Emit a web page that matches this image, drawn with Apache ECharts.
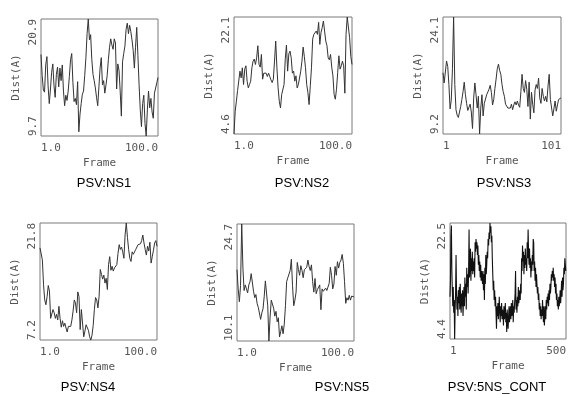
<!DOCTYPE html>
<html><head><meta charset="utf-8">
<script src="https://cdn.jsdelivr.net/npm/echarts@6/dist/echarts.min.js"></script>
<style>html,body{margin:0;padding:0;background:#fff}#c{width:569px;height:395px}</style>
</head><body><div id="c"></div>
<script>
const panelTitles = ['PSV:NS1', 'PSV:NS2', 'PSV:NS3', 'PSV:NS4', 'PSV:NS5', 'PSV:5NS_CONT'];

const dist1 = [17.5,15.5,14.1,13.9,16.5,17.3,14.5,12.8,14.2,15.8,
16.6,14.5,13.4,15.6,16.3,14.4,16.2,15.0,16.5,14.0,
12.6,13.6,13.1,14.0,15.4,17.0,17.6,14.8,13.0,13.3,
12.7,14.9,10.1,11.8,12.8,13.7,14.0,15.5,17.2,19.5,
20.9,18.9,19.4,17.0,15.6,15.0,14.3,13.4,12.6,14.4,
16.2,17.2,14.6,15.0,13.8,14.6,15.5,17.0,18.2,19.0,
18.4,18.0,19.0,18.6,14.2,16.6,16.0,14.0,11.6,16.8,
17.6,18.3,19.9,20.5,19.5,20.3,19.7,18.9,17.9,16.2,
18.2,20.1,17.4,14.6,12.2,10.6,12.8,13.6,10.9,9.7,
12.2,14.0,12.4,13.3,12.0,11.4,13.8,13.7,14.8,15.3];

const dist2 = [4.6,8.0,9.5,11.1,11.2,14.0,13.0,14.5,12.0,14.3,
14.8,12.5,11.5,12.0,12.5,14.5,15.5,15.8,15.0,16.0,
17.8,15.0,14.6,16.5,12.8,13.7,13.5,13.7,13.2,13.7,
13.2,12.7,12.3,12.8,15.5,18.5,14.5,11.5,9.5,8.5,
10.5,10.7,12.0,15.8,17.9,14.0,16.6,17.0,16.0,13.7,
14.0,12.5,13.3,11.5,12.0,12.2,14.0,15.5,17.6,16.2,
14.5,12.0,10.8,9.0,11.8,14.5,18.8,19.5,19.3,20.0,
19.5,21.3,18.0,19.8,20.5,21.5,20.0,18.5,17.8,16.0,
15.7,16.5,14.6,13.3,10.5,9.8,11.3,13.8,16.3,14.3,
14.8,15.5,14.8,10.7,19.5,22.1,22.0,19.0,16.2,15.0];

const dist3 = [17.0,15.7,15.8,18.5,17.8,15.5,12.4,13.5,17.5,24.1,
15.5,12.3,11.6,11.3,12.0,12.7,13.6,14.6,15.8,14.2,
13.1,12.2,12.0,13.0,12.0,9.9,13.8,15.7,14.2,12.5,
14.0,9.2,12.5,14.2,11.5,13.1,12.9,14.2,14.4,14.9,
15.4,14.5,12.9,13.6,15.0,16.2,17.5,18.1,17.3,16.8,
15.5,14.6,14.0,13.0,13.1,12.5,12.3,12.5,13.0,12.3,
12.9,13.3,12.9,13.4,12.9,12.6,14.6,16.8,15.0,14.5,
16.0,14.9,12.7,15.8,11.1,14.5,13.0,11.9,14.8,15.5,
15.0,16.3,13.8,13.1,15.0,14.0,13.4,14.0,13.3,15.3,
16.8,13.6,13.5,11.5,12.4,13.4,12.1,12.9,13.6,13.8,
13.8];

const dist4 = [18.7,18.5,17.2,14.1,12.2,11.6,12.6,14.0,13.3,9.9,
9.7,11.0,10.6,9.9,10.4,9.7,11.4,9.9,8.8,9.6,
8.9,9.3,8.7,8.2,8.9,9.1,8.9,9.7,10.8,12.2,
11.8,10.6,13.2,12.6,8.5,11.0,10.8,7.6,8.3,9.1,
9.1,8.4,7.6,7.2,7.8,9.0,11.0,12.5,12.2,11.2,
12.6,16.0,15.4,14.8,15.3,14.3,14.9,13.5,16.6,17.6,
15.9,16.4,15.8,16.2,16.4,16.6,18.0,19.1,18.5,18.8,
18.2,17.4,20.3,21.8,20.0,18.5,17.4,17.0,18.2,17.9,
17.8,18.5,18.4,19.1,18.9,19.2,19.6,20.3,19.3,18.5,
17.8,18.9,18.3,19.4,16.8,17.6,18.4,19.3,19.6,18.9];

const dist5 = [19.0,16.6,15.0,17.0,24.7,19.2,16.4,17.1,16.6,16.1,
17.1,17.5,18.5,18.4,16.3,15.5,15.9,14.8,14.3,14.2,
12.8,13.6,14.1,15.6,17.6,17.5,14.5,10.1,13.1,15.2,
15.4,14.2,13.2,13.8,12.5,13.0,10.6,11.3,12.0,11.0,
12.2,14.5,17.5,18.0,18.1,18.9,20.3,17.0,14.5,15.2,
16.2,19.9,19.0,18.3,19.5,18.9,18.0,19.0,18.8,19.3,
20.2,19.4,18.9,19.6,17.5,16.2,17.9,16.0,16.5,16.3,
17.1,14.0,16.6,16.3,16.4,16.7,16.4,16.2,17.3,19.3,
18.3,16.6,17.2,19.4,18.3,20.0,19.2,19.9,20.2,20.9,
19.8,17.5,14.8,15.5,15.2,15.8,15.2,15.7,15.6,15.6];

// PSV:5NS_CONT, sampled every 2nd frame
const dist6 = [11.0,13.5,20.5,22.1,15.0,12.0,9.5,12.5,8.5,10.5,
4.4,9.0,11.5,17.5,12.0,9.0,11.0,8.0,12.0,10.0,
12.5,9.0,13.0,10.5,8.5,11.5,9.5,12.0,8.0,10.5,
12.5,9.5,14.0,11.0,13.0,9.0,15.5,12.5,14.5,11.5,
15.0,21.5,14.0,16.5,18.5,13.5,17.0,15.0,18.0,14.5,
16.5,15.0,17.0,14.0,19.5,18.0,20.0,18.5,19.5,17.5,
19.0,16.0,17.5,15.0,16.5,14.0,16.0,13.5,15.0,14.0,
13.0,15.0,12.0,14.5,10.5,15.5,13.0,17.5,14.5,16.0,
18.0,17.0,20.0,19.0,21.0,20.0,22.5,21.0,22.0,19.5,
20.5,17.0,14.5,12.0,13.5,10.5,12.0,9.5,11.0,8.5,
6.0,9.5,8.0,10.0,7.5,9.0,11.0,8.5,7.0,9.5,
8.0,10.0,7.5,9.0,8.5,6.5,9.5,7.5,8.5,10.0,
7.0,8.5,5.5,9.0,7.5,6.0,8.0,9.5,7.0,8.5,
9.5,7.5,10.0,8.0,9.0,10.5,7.0,9.5,8.5,10.0,
11.5,15.0,9.0,10.5,8.5,11.0,9.5,12.5,10.0,11.0,
12.0,10.5,13.0,11.5,17.0,15.0,19.0,16.5,18.0,14.5,
17.5,15.5,18.5,16.0,17.0,15.0,19.5,17.0,21.5,18.0,
16.0,18.5,15.5,17.0,14.0,16.5,15.0,17.5,16.0,20.0,
19.5,15.0,16.5,13.5,15.5,12.5,14.5,13.0,11.5,12.5,
10.5,11.5,9.0,10.0,8.0,9.5,7.5,9.0,8.0,10.5,
8.5,7.0,9.5,6.5,8.0,9.5,7.5,10.5,9.0,11.0,
10.0,11.5,9.5,12.0,10.5,13.0,11.5,12.5,14.5,13.5,
15.0,14.0,15.5,13.5,14.5,12.5,14.0,11.5,13.0,10.5,
11.5,9.5,10.5,9.0,11.0,9.5,10.5,12.0,10.0,11.5,
13.5,11.0,14.0,12.0,13.0,15.5,14.5,17.0,16.0,15.0];

const xTicks = [[1, 100], [1, 100], [1, 101], [1, 100], [1, 100], [1, 500]];
const xTickDecimals = [1, 1, 0, 1, 1, 0];
const yTicks = [[9.7, 20.9], [4.6, 22.1], [9.2, 24.1], [7.2, 21.8], [10.1, 24.7], [4.4, 22.5]];
const frameStep = [1, 1, 1, 1, 1, 2];
const allDist = [dist1, dist2, dist3, dist4, dist5, dist6];

const boxes = [
  {left: 41, top: 19, width: 117, height: 117, tx: 104, ty: 183, lc: '#333', lw: 1},
  {left: 234, top: 17, width: 118, height: 117, tx: 302, ty: 183, lc: '#333', lw: 1},
  {left: 443, top: 17, width: 118, height: 117, tx: 504, ty: 183, lc: '#333', lw: 1},
  {left: 40, top: 223, width: 117, height: 117, tx: 88, ty: 387, lc: '#333', lw: 1},
  {left: 237, top: 224, width: 117, height: 117, tx: 342, ty: 387, lc: '#333', lw: 1},
  {left: 450, top: 223, width: 117, height: 116, tx: 497, ty: 387, lc: '#111', lw: 1.1}
];

const mono = "'DejaVu Sans Mono', monospace";
const labelColor = '#555';

const grid = [], xAxis = [], yAxis = [], series = [], graphic = [];
boxes.forEach((b, i) => {
  grid.push({left: b.left, top: b.top, width: b.width, height: b.height,
    show: true, borderColor: '#7a7a7a', borderWidth: 1, backgroundColor: 'transparent'});
  const dec = xTickDecimals[i];
  xAxis.push({type: 'value', gridIndex: i, min: xTicks[i][0], max: xTicks[i][1],
    name: 'Frame', nameLocation: 'middle', nameGap: 22,
    nameTextStyle: {fontFamily: mono, fontSize: 11, color: labelColor},
    axisLine: {show: false}, axisTick: {show: false}, splitLine: {show: false},
    axisLabel: {customValues: xTicks[i], formatter: v => v.toFixed(dec),
      alignMinLabel: 'left', alignMaxLabel: 'right', margin: 7,
      fontFamily: mono, fontSize: 11, color: labelColor}});
  yAxis.push({type: 'value', gridIndex: i, min: yTicks[i][0], max: yTicks[i][1],
    name: 'Dist(A)', nameLocation: 'middle', nameGap: 19, nameRotate: 90,
    nameTextStyle: {fontFamily: mono, fontSize: 11, color: labelColor},
    axisLine: {show: false}, axisTick: {show: false}, splitLine: {show: false},
    axisLabel: {customValues: yTicks[i], formatter: v => v.toFixed(1), rotate: 90,
      alignMinLabel: 'left', alignMaxLabel: 'right', margin: 2,
      fontFamily: mono, fontSize: 11, color: labelColor}});
  const vals = allDist[i];
  series.push({type: 'line', xAxisIndex: i, yAxisIndex: i, showSymbol: false, silent: true,
    data: vals.map((v, j) => [1 + j * frameStep[i], v]),
    lineStyle: {color: b.lc, width: b.lw}});
  graphic.push({type: 'text', x: b.tx, y: b.ty,
    style: {text: panelTitles[i], align: 'center', verticalAlign: 'middle',
      font: "13px 'Liberation Sans', Arial, sans-serif", fill: '#000'}});
});

const chart = echarts.init(document.getElementById('c'), null, {renderer: 'canvas'});
chart.setOption({animation: false, backgroundColor: '#fff', grid, xAxis, yAxis, series, graphic});
</script></body></html>
